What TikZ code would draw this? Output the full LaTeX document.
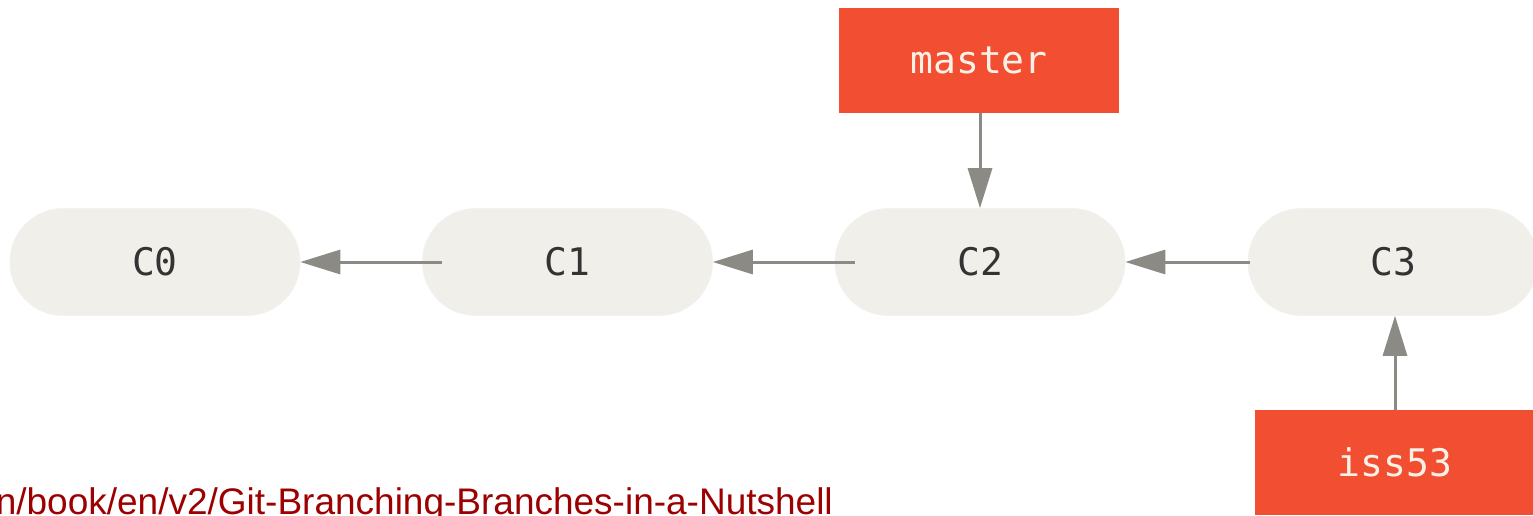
\documentclass[tikz,border=0pt]{standalone}
\usepackage{fontspec}
\setmainfont{Liberation Sans}
\newfontfamily\commitmono{DejaVu Sans Mono}
\usetikzlibrary{arrows.meta}
\definecolor{gitorange}{HTML}{F14E32}
\definecolor{commitfill}{HTML}{F0EFE9}
\definecolor{commitink}{HTML}{333333}
\definecolor{pointer}{HTML}{8C8A85}
\definecolor{labelink}{HTML}{FBF1E6}
\definecolor{urlred}{HTML}{9C0000}
\tikzset{
  commit/.style={fill=commitfill, draw=commitfill!85!gray!40, line width=0.6pt,
    rounded corners=53pt, minimum width=290pt, minimum height=107pt,
    inner sep=0pt, text=commitink, font=\commitmono\fontsize{38}{40}\selectfont},
  branch/.style={fill=gitorange, draw=none, minimum width=280pt, minimum height=105pt,
    inner sep=0pt, text=labelink, font=\commitmono\fontsize{38}{40}\selectfont},
  link/.style={draw=pointer, line width=3pt,
    -{Triangle[length=40pt,width=24pt]}},
  urltext/.style={text=urlred, inner sep=0pt, font=\fontsize{37}{40}\selectfont}
}
\begin{document}
\begin{tikzpicture}[x=1pt,y=1pt]
  \useasboundingbox (0,0) rectangle (1533,-516);
  \clip (0,0) rectangle (1533,-516);
  \fill[white] (0,0) rectangle (1533,-516);

  % commit history
  \node[commit] (c0) at (155,-262) {C0};
  \node[commit] (c1) at (567.5,-262) {C1};
  \node[commit] (c2) at (980,-262) {C2};
  \node[commit] (c3) at (1393,-262) {C3};

  % branch pointers
  \node[branch] (master) at (979,-60.5) {master};
  \node[branch] (iss53) at (1395,-462.5) {iss53};

  % parent links
  \draw[link, shorten <=-20pt] (c1.west) -- (c0.east);
  \draw[link, shorten <=-20pt] (c2.west) -- (c1.east);
  \draw[link, shorten <=-2pt] (c3.west) -- (c2.east);

  % branch references
  \draw[link] (master.south -| c2.north) -- (c2.north);
  \draw[link] (iss53.north) -- (iss53.north |- c3.south);

  % source reference
  \node[urltext, anchor=base east] (src) at (833,-514)
    {n/book/en/v2/Git-Branching-Branches-in-a-Nutshell};
\end{tikzpicture}
\end{document}
